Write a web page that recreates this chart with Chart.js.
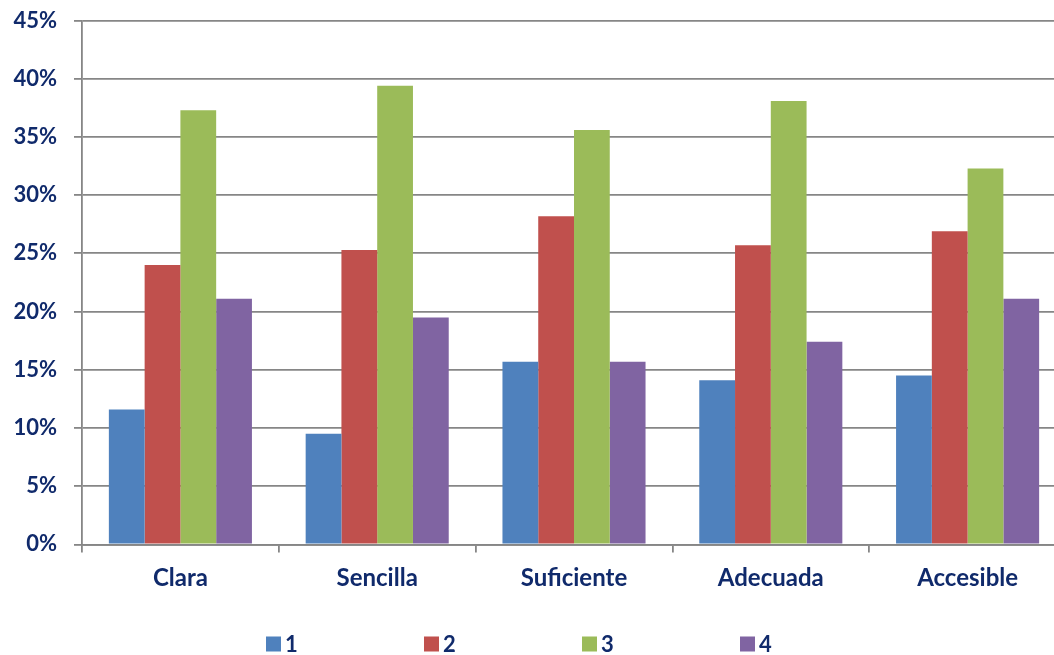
<!DOCTYPE html>
<html>
<head>
<meta charset="utf-8">
<script src="https://cdn.jsdelivr.net/npm/chart.js@4.4.1/dist/chart.umd.min.js"></script>
<style>
  html, body { margin: 0; padding: 0; background: #ffffff; overflow: hidden; }
  #wrap { width: 1054px; height: 655px; overflow: hidden; position: relative; }
  canvas { display: block; }
</style>
</head>
<body>
<div id="wrap"><canvas id="c" width="1070" height="655"></canvas></div>
<script>
const categories = ['Clara', 'Sencilla', 'Suficiente', 'Adecuada', 'Accesible'];
const seriesLabels = ['1', '2', '3', '4'];
const series1 = [11.6, 9.5, 15.7, 14.1, 14.5];
const series2 = [24.0, 25.3, 28.2, 25.7, 26.9];
const series3 = [37.3, 39.4, 35.6, 38.1, 32.3];
const series4 = [21.1, 19.5, 15.7, 17.4, 21.1];
const yTicks = [0, 5, 10, 15, 20, 25, 30, 35, 40, 45];

const colors = ['#4F81BD', '#C0504D', '#9BBB59', '#8064A2'];
const textColor = '#102a6b';
const gridColor = '#868686';
const fontFamily = 'Lato, "Open Sans", "Liberation Sans", sans-serif';

const legendPlugin = {
  id: 'customLegend',
  afterDraw(chart) {
    const ctx = chart.ctx;
    ctx.save();
    ctx.font = 'bold 22px ' + fontFamily;
    ctx.textBaseline = 'middle';
    ctx.textAlign = 'left';
    chart.data.datasets.forEach((ds, i) => {
      const x = 266 + i * 158;
      const y = 636.5;
      ctx.fillStyle = ds.backgroundColor;
      ctx.fillRect(x, y, 15, 15);
      ctx.fillStyle = textColor;
      ctx.fillText(ds.label, x + 19, y + 8);
    });
    ctx.restore();
  }
};

new Chart(document.getElementById('c'), {
  type: 'bar',
  data: {
    labels: categories,
    datasets: [series1, series2, series3, series4].map((d, i) => ({
      label: seriesLabels[i],
      data: d,
      backgroundColor: colors[i],
      borderWidth: 0,
      categoryPercentage: 0.727,
      barPercentage: 1.0
    }))
  },
  options: {
    responsive: false,
    animation: false,
    layout: { padding: { top: 20.6, right: 4, bottom: 50.6, left: 0 } },
    plugins: {
      legend: { display: false },
      tooltip: { enabled: false }
    },
    scales: {
      x: {
        offset: true,
        grid: {
          offset: true,
          drawOnChartArea: false,
          drawTicks: true,
          tickLength: 8,
          color: gridColor,
          lineWidth: 1.8
        },
        border: { display: true, color: gridColor, width: 1.8 },
        ticks: {
          color: textColor,
          padding: 11,
          font: { family: fontFamily, size: 24, weight: 'bold' }
        },
        afterFit(scale) {
          scale.height = 60;
          scale.paddingLeft = 0;
          scale.paddingRight = 0;
        }
      },
      y: {
        min: 0,
        max: 45,
        afterBuildTicks(scale) { scale.ticks = yTicks.map(v => ({ value: v })); },
        grid: {
          color: gridColor,
          lineWidth: 1.8,
          drawTicks: true,
          tickLength: 8
        },
        border: { display: true, color: gridColor, width: 1.8 },
        ticks: {
          color: textColor,
          padding: 17,
          font: { family: fontFamily, size: 22, weight: 'bold' },
          callback: v => v + '%'
        },
        afterFit(scale) {
          scale.width = 82;
          scale.paddingTop = 0;
          scale.paddingBottom = 0;
        }
      }
    }
  },
  plugins: [legendPlugin]
});
</script>
</body>
</html>
